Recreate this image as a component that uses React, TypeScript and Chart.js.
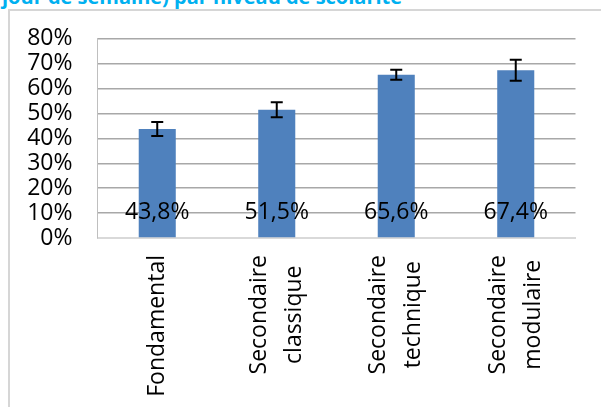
import React, { useEffect, useRef } from "react";
import { Chart, registerables } from "chart.js";

Chart.register(...registerables);

const titleText = "jour de semaine) par niveau de scolarité";
const categories: string[][] = [
  ["Fondamental"],
  ["Secondaire", "classique"],
  ["Secondaire", "technique"],
  ["Secondaire", "modulaire"],
];
const values = [43.8, 51.5, 65.6, 67.4];
const errorMinus = [2.8, 3.0, 2.0, 4.2];
const errorPlus = [2.8, 3.0, 2.0, 4.2];
const yMin = 0;
const yMax = 80;
const yStep = 10;

const FONT = "'Open Sans', sans-serif";
const FONT_SIZE = 23;

const fmt = (v: number) => v.toFixed(1).replace(".", ",") + "%";

const errorBarPlugin = {
  id: "errorBars",
  afterDatasetsDraw(chart: any) {
    const ctx = chart.ctx;
    const meta = chart.getDatasetMeta(0);
    const y = chart.scales.y;
    ctx.save();
    ctx.strokeStyle = "#000000";
    ctx.lineWidth = 2;
    meta.data.forEach((bar: any, i: number) => {
      const x = bar.x;
      const top = y.getPixelForValue(values[i] + errorPlus[i]);
      const bot = y.getPixelForValue(values[i] - errorMinus[i]);
      const cap = 6;
      ctx.beginPath();
      ctx.moveTo(x, top);
      ctx.lineTo(x, bot);
      ctx.moveTo(x - cap, top);
      ctx.lineTo(x + cap, top);
      ctx.moveTo(x - cap, bot);
      ctx.lineTo(x + cap, bot);
      ctx.stroke();
    });
    ctx.restore();
  },
};

const valueLabelPlugin = {
  id: "valueLabels",
  afterDatasetsDraw(chart: any) {
    const ctx = chart.ctx;
    const meta = chart.getDatasetMeta(0);
    const y = chart.scales.y;
    const base = y.getPixelForValue(0);
    ctx.save();
    ctx.fillStyle = "#000000";
    ctx.font = `${FONT_SIZE}px ${FONT}`;
    ctx.textAlign = "center";
    ctx.textBaseline = "middle";
    meta.data.forEach((bar: any, i: number) => {
      ctx.fillText(fmt(values[i]), bar.x, base - 26);
    });
    ctx.restore();
  },
};

// Rotated category labels: block top-aligned under the axis, lines centred within the block
const categoryLabelPlugin = {
  id: "categoryLabels",
  afterDraw(chart: any) {
    const ctx = chart.ctx;
    const xs = chart.scales.x;
    const pad = 17;
    const lineH = 35;
    ctx.save();
    ctx.fillStyle = "#000000";
    ctx.font = `${FONT_SIZE}px ${FONT}`;
    ctx.textAlign = "center";
    ctx.textBaseline = "middle";
    categories.forEach((lines, i) => {
      const x = xs.getPixelForTick(i);
      const maxW = Math.max(...lines.map((l) => ctx.measureText(l).width));
      const along = xs.top + pad + maxW / 2;
      ctx.save();
      ctx.translate(x, along);
      ctx.rotate(-Math.PI / 2);
      lines.forEach((line, j) => {
        ctx.fillText(line, 0, (j - (lines.length - 1) / 2) * lineH);
      });
      ctx.restore();
    });
    ctx.restore();
  },
};

export default function App() {
  const canvasRef = useRef<HTMLCanvasElement | null>(null);

  useEffect(() => {
    const canvas = canvasRef.current;
    if (!canvas) return;
    const chart = new Chart(canvas, {
      type: "bar",
      data: {
        labels: categories.map((c) => c.join(" ")),
        datasets: [
          {
            data: values,
            backgroundColor: "#4F81BD",
            borderWidth: 0,
            barPercentage: 0.31,
            categoryPercentage: 1,
          },
        ],
      },
      options: {
        responsive: false,
        animation: false,
        events: [],
        layout: { padding: { top: 38, right: 25.5, left: 0, bottom: 0 } },
        plugins: {
          legend: { display: false },
          tooltip: { enabled: false },
          title: { display: false },
        },
        scales: {
          x: {
            grid: { display: false, drawTicks: false },
            border: { display: true, color: "#d9d9d9", width: 2 },
            ticks: { display: false },
            afterFit: (scale: any) => {
              scale.height = 169;
            },
          },
          y: {
            min: yMin,
            max: yMax,
            grid: {
              drawTicks: false,
              color: (c: any) => (c.tick && c.tick.value === 0 ? "#d9d9d9" : "#a8a8a8"),
              lineWidth: 1.5,
            },
            border: { display: true, color: "#bfbfbf", width: 1 },
            ticks: {
              stepSize: yStep,
              autoSkip: false,
              padding: 25,
              color: "#000000",
              font: { family: FONT, size: FONT_SIZE },
              callback: (v: any) => `${v}%`,
            },
            afterFit: (scale: any) => {
              scale.width = 97.5;
            },
          },
        },
      },
      plugins: [errorBarPlugin, valueLabelPlugin, categoryLabelPlugin],
    });
    return () => chart.destroy();
  }, []);

  return (
    <div
      style={{
        position: "absolute",
        left: 0,
        top: 0,
        width: 601,
        height: 407,
        overflow: "hidden",
        background: "#ffffff",
      }}
    >
      <div
        style={{
          position: "absolute",
          left: 2,
          top: -17,
          whiteSpace: "nowrap",
          fontFamily: FONT,
          fontWeight: 700,
          fontSize: 20,
          color: "#00B0F0",
        }}
      >
        {titleText}
      </div>
      <div
        style={{
          position: "absolute",
          left: 8,
          top: 9,
          width: 620,
          height: 420,
          borderLeft: "2px solid #d6d6d6",
          borderTop: "2px solid #d6d6d6",
        }}
      />
      <canvas
        ref={canvasRef}
        width={601}
        height={407}
        style={{ position: "absolute", left: 0, top: 0, width: 601, height: 407 }}
      />
    </div>
  );
}
